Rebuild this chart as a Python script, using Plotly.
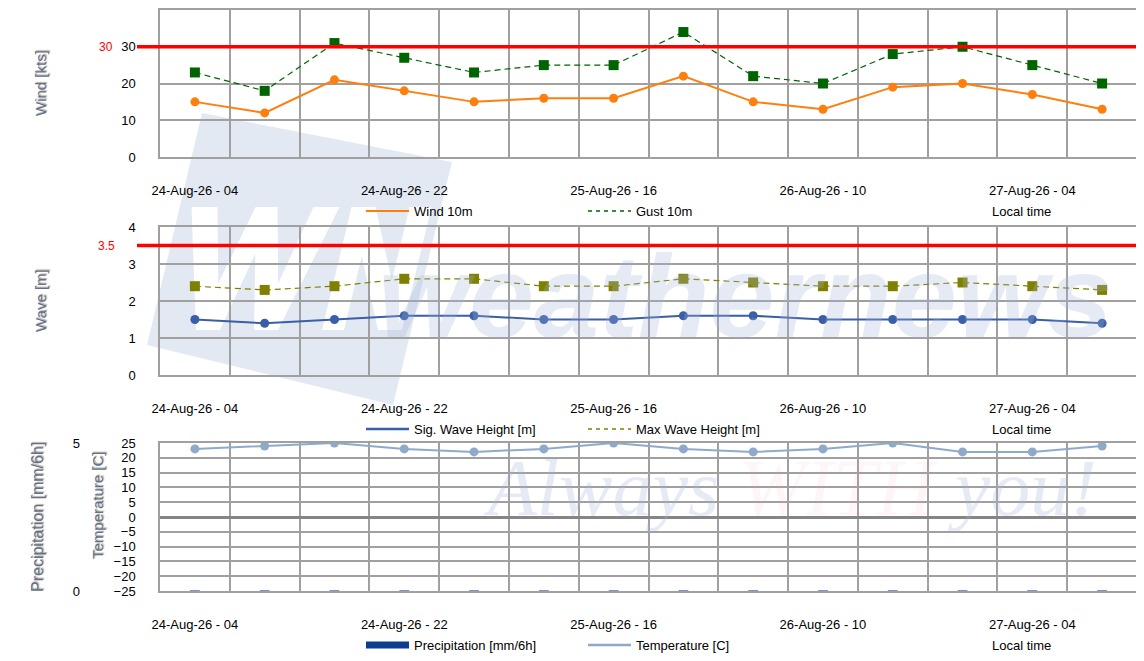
import plotly.graph_objects as go

# ---- data (6-hourly forecast, local time) ----
times = ["24-Aug-26 - 04", "24-Aug-26 - 10", "24-Aug-26 - 16", "24-Aug-26 - 22",
         "25-Aug-26 - 04", "25-Aug-26 - 10", "25-Aug-26 - 16", "25-Aug-26 - 22",
         "26-Aug-26 - 04", "26-Aug-26 - 10", "26-Aug-26 - 16", "26-Aug-26 - 22",
         "27-Aug-26 - 04", "27-Aug-26 - 10"]
wind_10m = [15, 12, 21, 18, 15, 16, 16, 22, 15, 13, 19, 20, 17, 13]
gust_10m = [23, 18, 31, 27, 23, 25, 25, 34, 22, 20, 28, 30, 25, 20]
sig_wave = [1.5, 1.4, 1.5, 1.6, 1.6, 1.5, 1.5, 1.6, 1.6, 1.5, 1.5, 1.5, 1.5, 1.4]
max_wave = [2.4, 2.3, 2.4, 2.6, 2.6, 2.4, 2.4, 2.6, 2.5, 2.4, 2.4, 2.5, 2.4, 2.3]
precip = [0, 0, 0, 0, 0, 0, 0, 0, 0, 0, 0, 0, 0, 0]
temperature = [23, 24, 25, 23, 22, 23, 25, 23, 22, 23, 25, 22, 22, 24]
wind_limit = 30
wave_limit = 3.5
label_every = 3

W, H = 1144, 661
OFF = 8  # page body margin
FONT = "Liberation Sans, Arial, sans-serif"
GRID = "#a0a0a0"
TITLE_C = "#5b7294"
TITLE_SHADOW = "1px 1px 1px rgba(140,100,50,0.55)"
WM_BLUE = "rgba(160,180,215,0.28)"
WM_RED = "rgba(245,150,150,0.32)"

idx = list(range(len(times)))
tickvals = idx[::label_every]
ticktext = times[::label_every]


# screen pixel -> paper fraction
def px(x):
    return (x - OFF) / W


def py(y):
    return 1 - (y - OFF) / H


def path(points):
    s = "M " + " L ".join(f"{px(x):.4f},{py(y):.4f}" for x, y in points)
    return s + " Z"


def letter(outline, x0, ybot, h, shear=0.24):
    return [(x0 + u + shear * v * h, ybot - v * h) for u, v in outline]


fig = go.Figure()

# wind panel
fig.add_trace(go.Scatter(x=idx, y=wind_10m, mode="lines+markers", name="Wind 10m",
                         line=dict(color="#ff7f0e", width=2), marker=dict(size=9),
                         showlegend=False, xaxis="x", yaxis="y"))
fig.add_trace(go.Scatter(x=idx, y=gust_10m, mode="lines+markers", name="Gust 10m",
                         line=dict(color="#006400", width=1.2, dash="6px,4px"),
                         marker=dict(symbol="square", size=10),
                         showlegend=False, xaxis="x", yaxis="y"))
# wave panel
fig.add_trace(go.Scatter(x=idx, y=sig_wave, mode="lines+markers", name="Sig. Wave Height [m]",
                         line=dict(color="#3a5ea8", width=2), marker=dict(size=9),
                         showlegend=False, xaxis="x2", yaxis="y2"))
fig.add_trace(go.Scatter(x=idx, y=max_wave, mode="lines+markers", name="Max Wave Height [m]",
                         line=dict(color="#808000", width=1.2, dash="6px,4px"),
                         marker=dict(symbol="square", size=10),
                         showlegend=False, xaxis="x2", yaxis="y2"))
# precip / temperature panel
fig.add_trace(go.Scatter(x=idx, y=precip, mode="markers", name="Precipitation [mm/6h]",
                         marker=dict(symbol="line-ew", size=7, color="#4a72b8",
                                     line=dict(color="#4a72b8", width=1.5)),
                         showlegend=False, xaxis="x3", yaxis="y4"))
fig.add_trace(go.Scatter(x=idx, y=temperature, mode="lines+markers", name="Temperature [C]",
                         line=dict(color="#8eaacb", width=2), marker=dict(size=9),
                         showlegend=False, xaxis="x3", yaxis="y3"))

# legend entries (line only, like the original)
leg_items = [
    ("Wind 10m", dict(color="#ff7f0e", width=2), "legend"),
    ("Gust 10m", dict(color="#006400", width=1.5, dash="4px,4px"), "legend"),
    ("Sig. Wave Height [m]", dict(color="#3a5ea8", width=2.5), "legend2"),
    ("Max Wave Height [m]", dict(color="#808000", width=1.5, dash="4px,4px"), "legend2"),
    ("Precipitation [mm/6h]", dict(color="#0b3d91", width=7), "legend3"),
    ("Temperature [C]", dict(color="#8eaacb", width=2.5), "legend3"),
]
for name, ln, lg in leg_items:
    fig.add_trace(go.Scatter(x=[None], y=[None], mode="lines", name=name, line=ln,
                             legend=lg, xaxis="x", yaxis="y", hoverinfo="skip"))

xdom = [px(160), px(1137)]
xcommon = dict(domain=xdom, range=[-0.5, len(times) - 0.5], tickmode="array",
               tickvals=tickvals, ticktext=ticktext, showgrid=False, zeroline=False,
               showline=True, mirror=True, linecolor=GRID, linewidth=1.5,
               ticks="", ticklabelstandoff=21,
               tickfont=dict(size=13, color="black", family=FONT),
               minor=dict(tickmode="linear", tick0=0.5, dtick=1, showgrid=True,
                          gridcolor=GRID, gridwidth=1.5, ticks=""))
ycommon = dict(showgrid=True, gridcolor=GRID, gridwidth=1.5, zeroline=False,
               showline=True, mirror=True, linecolor=GRID, linewidth=1.5,
               ticks="", ticklabelstandoff=20,
               tickfont=dict(size=13, color="black", family=FONT))

fig.update_layout(
    width=W, height=H,
    margin=dict(l=0, r=0, t=0, b=0, autoexpand=False),
    paper_bgcolor="white", plot_bgcolor="rgba(0,0,0,0)",
    font=dict(family=FONT, size=13, color="black"),
    xaxis=dict(xcommon, anchor="y"),
    xaxis2=dict(xcommon, anchor="y2"),
    xaxis3=dict(xcommon, anchor="y3"),
    yaxis=dict(ycommon, domain=[py(157), py(10)], range=[0, 40], dtick=10, anchor="x"),
    yaxis2=dict(ycommon, domain=[py(375), py(227)], range=[0, 4], dtick=1, anchor="x2"),
    yaxis3=dict(ycommon, domain=[py(591), py(443)], range=[-25, 25], dtick=5, anchor="x3",
                zeroline=True, zerolinecolor="#858585", zerolinewidth=3),
    yaxis4=dict(overlaying="y3", anchor="free", position=px(80), side="left",
                range=[0, 5], tickmode="array", tickvals=[0, 5], showgrid=False,
                zeroline=False, showline=False, ticks="",
                tickfont=dict(size=13, color="black", family=FONT)),
    hovermode=False,
)

legcommon = dict(orientation="h", xanchor="left", yanchor="middle", x=px(361),
                 entrywidth=164, entrywidthmode="pixels", itemwidth=43,
                 bgcolor="rgba(0,0,0,0)", font=dict(size=13, family=FONT, color="black"),
                 itemclick=False, itemdoubleclick=False)
fig.update_layout(legend=dict(legcommon, y=py(211)),
                  legend2=dict(legcommon, y=py(429)),
                  legend3=dict(legcommon, y=py(645)))

# watermark logo (below everything)
shapes = [dict(type="path", xref="paper", yref="paper", layer="below",
               path=path([(202, 113), (452, 162), (393, 405), (147, 345)]),
               fillcolor="#e3e9f3", line=dict(width=0))]
w_outline = [(0, 1), (26, 1), (45, 0.38), (64, 1), (86, 1), (105, 0.38), (122, 1), (148, 1),
             (116, 0), (92, 0), (75, 0.62), (58, 0), (34, 0)]
n_outline = [(0, 0), (0, 1), (24, 1), (58, 0.4), (58, 1), (80, 1), (80, 0), (56, 0),
             (22, 0.6), (22, 0)]
for outline, x0 in [(w_outline, 162), (n_outline, 322)]:
    shapes.append(dict(type="path", xref="paper", yref="paper", layer="below",
                       path=path(letter(outline, x0, 330, 123)),
                       fillcolor="white", line=dict(width=0)))

# threshold lines
shapes.append(dict(type="line", xref="paper", yref="y", x0=px(137), x1=px(1137),
                   y0=wind_limit, y1=wind_limit, line=dict(color="#ff0000", width=3.5)))
shapes.append(dict(type="line", xref="paper", yref="y2", x0=px(137), x1=px(1137),
                   y0=wave_limit, y1=wave_limit, line=dict(color="#ff0000", width=3.5)))
fig.update_layout(shapes=shapes)

title_font = dict(size=15, family=FONT, color=TITLE_C, shadow=TITLE_SHADOW)
ann = [
    dict(text="weathernews", x=px(745), y=py(296), font=dict(size=117, family=FONT,
         color=WM_BLUE, weight="bold", style="italic")),
    dict(text=f"Always <span style='color:{WM_RED}'>WITH</span> you!",
         x=px(790), y=py(488),
         font=dict(size=80, family="Liberation Serif, Times New Roman, serif",
                   color=WM_BLUE, style="italic")),
    dict(text=str(wind_limit), x=px(106), y=wind_limit, yref="y",
         font=dict(size=12, color="#ff0000")),
    dict(text=str(wave_limit), x=px(106), y=wave_limit, yref="y2",
         font=dict(size=12, color="#ff0000")),
    dict(text="Wind [kts]", x=px(40), y=py(83), textangle=-90, font=title_font),
    dict(text="Wave [m]", x=px(40), y=py(301), textangle=-90, font=title_font),
    dict(text="Precipitation [mm/6h]", x=px(37), y=py(517), textangle=-90,
         font=dict(title_font, size=16)),
    dict(text="Temperature [C]", x=px(97), y=py(505), textangle=-90, font=title_font),
]
for yy in (211, 429, 645):
    ann.append(dict(text="Local time", x=px(990), y=py(yy), xanchor="left",
                    font=dict(size=13, color="black")))
for a in ann:
    a.setdefault("xref", "paper")
    a.setdefault("yref", "paper")
    a.setdefault("xanchor", "center")
    a["yanchor"] = "middle"
    a["showarrow"] = False
fig.update_layout(annotations=ann)

fig.write_html("out.html")
